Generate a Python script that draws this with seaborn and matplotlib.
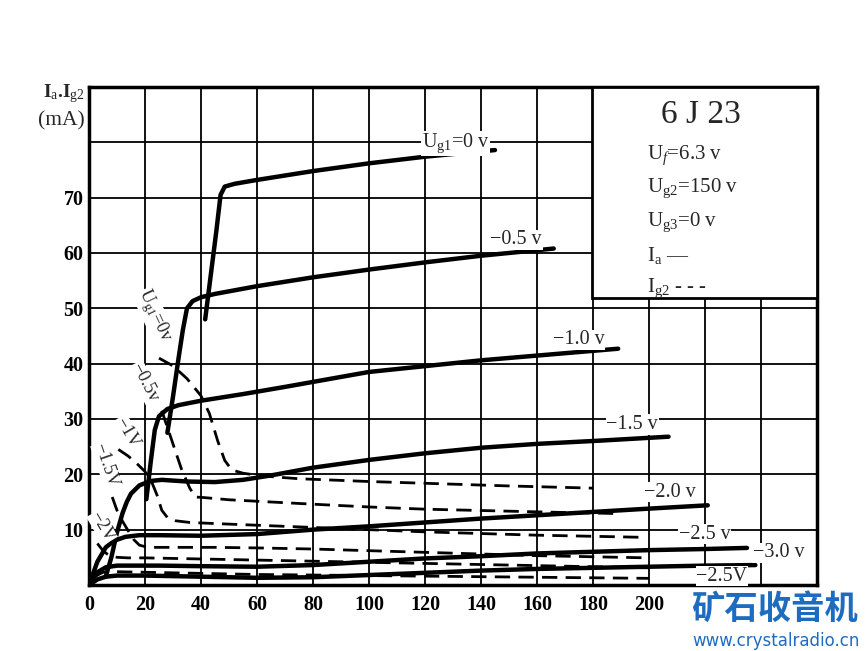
import matplotlib
matplotlib.use("Agg")
import matplotlib.pyplot as plt
import seaborn as sns
import pandas as pd
from matplotlib.patches import Rectangle

# anode voltage (V) / current (mA)
# Ia curves (solid)
ia_0_x = [41.5, 43.5, 45.5, 47, 48.5, 52, 60, 80, 100, 120, 145]
ia_0_y = [48, 56, 64, 70.5, 72, 72.5, 73.2, 74.8, 76.2, 77.4, 78.6]
ia_05_x = [28, 30, 32, 33.5, 35, 37, 40, 45, 60, 80, 100, 120, 140, 166]
ia_05_y = [27.5, 34, 41, 46, 50, 51.3, 52, 52.6, 54, 55.6, 57, 58.3, 59.5, 60.8]
ia_10_x = [20.5, 22, 23.5, 25, 28, 32, 40, 55, 70, 100, 140, 189]
ia_10_y = [15.5, 22, 28, 30.5, 31.8, 32.5, 33.3, 34.5, 35.8, 38.5, 40.6, 42.7]
ia_15_x = [6, 8, 10, 12, 13.5, 15, 18, 22, 26, 35, 45, 55, 65, 80, 100, 120, 140, 160, 183, 207]
ia_15_y = [1.5, 5, 9.5, 13, 15, 16.5, 18, 18.8, 19, 18.7, 18.6, 19, 19.8, 21.2, 22.6, 23.8, 24.8, 25.5, 26.1, 26.8]
ia_20_x = [0, 3, 6, 9, 13, 18, 25, 40, 60, 80, 100, 120, 140, 160, 180, 200, 221]
ia_20_y = [0, 4.2, 6.8, 8, 8.7, 9, 9, 8.9, 9.2, 10, 10.6, 11.3, 12, 12.6, 13.2, 13.8, 14.4]
ia_25_x = [0, 3, 6, 10, 15, 25, 40, 60, 80, 100, 120, 140, 160, 180, 200, 220, 235]
ia_25_y = [0, 2.3, 3.2, 3.5, 3.5, 3.5, 3.4, 3.3, 3.6, 4.2, 4.8, 5.2, 5.7, 6.0, 6.3, 6.5, 6.7]
ia_30_x = [0, 3, 6, 10, 20, 40, 60, 80, 100, 120, 140, 160, 180, 200, 220, 238]
ia_30_y = [0, 1.0, 1.5, 1.7, 1.7, 1.5, 1.3, 1.4, 1.8, 2.2, 2.6, 2.9, 3.1, 3.3, 3.5, 3.6]

# Ig2 curves (dashed)
ig_0_x = [25, 30, 35, 40, 43, 46, 48.5, 51, 55, 62, 75, 100, 125, 150, 180]
ig_0_y = [41, 39.6, 37.3, 34.2, 31, 26, 22.5, 20.8, 20.2, 19.7, 19.2, 18.7, 18.3, 17.9, 17.5]
ig_05_x = [26, 30, 33, 36, 38, 41, 50, 65, 80, 100, 120, 145, 170, 190]
ig_05_y = [31.5, 25.5, 21, 17.5, 15.9, 15.8, 15.4, 15, 14.6, 14.1, 13.7, 13.4, 13.1, 12.9]
ig_10_x = [10.5, 14, 17, 20, 22.5, 24.5, 26, 28, 31, 36, 45, 60, 80, 100, 120, 140, 160, 180, 199]
ig_10_y = [24.5, 23.3, 22, 20.5, 18.5, 16, 13.5, 12.2, 11.6, 11.3, 11.1, 10.8, 10.4, 10, 9.6, 9.3, 9.0, 8.8, 8.6]
ig_15_x = [8.3, 10, 12, 14, 16, 18, 21, 30, 45, 60, 80, 100, 120, 140, 160, 180, 200]
ig_15_y = [15.9, 13.5, 11.5, 9.8, 8.2, 7.2, 6.8, 6.8, 6.8, 6.7, 6.5, 6.2, 5.9, 5.6, 5.3, 5.1, 4.9]
ig_20_x = [3, 5, 7, 10, 14, 20, 40, 60, 80, 100, 120, 140, 160, 180, 200]
ig_20_y = [7.5, 6.2, 5.4, 5.0, 4.9, 4.9, 4.7, 4.5, 4.3, 4.1, 3.9, 3.7, 3.5, 3.3, 3.1]
ig_25_x = [2, 5, 10, 20, 40, 60, 80, 100, 120, 140, 160, 180, 200]
ig_25_y = [1.5, 2.3, 2.4, 2.3, 2.1, 1.9, 1.8, 1.7, 1.6, 1.5, 1.4, 1.3, 1.2]

ia_curves = {"0": (ia_0_x, ia_0_y), "-0.5": (ia_05_x, ia_05_y), "-1.0": (ia_10_x, ia_10_y),
             "-1.5": (ia_15_x, ia_15_y), "-2.0": (ia_20_x, ia_20_y), "-2.5": (ia_25_x, ia_25_y),
             "-3.0": (ia_30_x, ia_30_y)}
ig_curves = {"0": (ig_0_x, ig_0_y), "-0.5": (ig_05_x, ig_05_y), "-1.0": (ig_10_x, ig_10_y),
             "-1.5": (ig_15_x, ig_15_y), "-2.0": (ig_20_x, ig_20_y), "-2.5": (ig_25_x, ig_25_y)}

rows = []
for kind, curves in [("Ia", ia_curves), ("Ig2", ig_curves)]:
    for ug, (xs, ys) in curves.items():
        for x, y in zip(xs, ys):
            rows.append({"Ua": x, "I": y, "Ug1": ug, "kind": kind})
df = pd.DataFrame(rows)

# labels at the ends of the Ia curves
end_labels = [r"U$_\mathrm{g1}$=0 v", "−0.5 v", "−1.0 v", "−1.5 v", "−2.0 v", "−2.5 v", "−3.0 v", "−2.5V"]
end_x = [131, 152.6, 175, 194, 207.5, 220, 246.3, 226]
end_y = [79.8, 62.4, 44.3, 29.0, 16.8, 9.2, 5.8, 1.6]
# rotated labels at the start of the Ig2 curves
start_labels = [r"U$_\mathrm{g1}$=0v", "−0.5v", "−1V", "−1.5V", "−2V"]
start_x = [23.3, 19.7, 13.6, 6.1, 4.7]
start_y = [48.6, 36.6, 27.6, 21.6, 10.5]
start_rot = [-65, -63, -60, -71, -60]

sns.set_theme(style="white")
plt.rcParams["font.family"] = ["Liberation Serif", "DejaVu Serif"]
plt.rcParams["mathtext.fontset"] = "custom"
plt.rcParams["mathtext.rm"] = "Liberation Serif"
plt.rcParams["mathtext.it"] = "Liberation Serif:italic"
plt.rcParams["mathtext.bf"] = "Liberation Serif:bold"

fig = plt.figure(figsize=(8.68, 6.51), dpi=100)
ax = fig.add_axes([0.1025, 0.1014, 0.8387, 0.765])

for (kind, ug), sub in df.groupby(["kind", "Ug1"], sort=False):
    if kind == "Ia":
        sns.lineplot(data=sub, x="Ua", y="I", sort=False, estimator=None,
                     color="black", lw=3.2, ax=ax, zorder=5)
    else:
        sns.lineplot(data=sub, x="Ua", y="I", sort=False, estimator=None,
                     color="black", lw=2.0, ax=ax, zorder=5)
        ax.lines[-1].set_dashes([5.5, 3])

ax.set_xlim(0, 260)
ax.set_ylim(0, 90)
ax.set_xticks(range(0, 261, 20))
ax.set_yticks(range(0, 91, 10))
ax.set_xticklabels([str(v) if v <= 200 else "" for v in range(0, 261, 20)])
ax.set_yticklabels([str(v) if 10 <= v <= 70 else "" for v in range(0, 91, 10)])
ax.tick_params(length=0, labelsize=14.5, colors="black")
ax.tick_params(axis="x", pad=7)
ax.tick_params(axis="y", pad=4)
for lab in ax.get_xticklabels() + ax.get_yticklabels():
    lab.set_fontweight("bold")
ax.get_xticklabels()[0].set_x(-3)
ax.grid(True, color="black", lw=1.3)
ax.set_axisbelow(True)
for s in ax.spines.values():
    s.set_color("black")
    s.set_linewidth(2.5)
ax.set_xlabel("")
ax.set_ylabel("")

for t, x, y in zip(end_labels, end_x, end_y):
    ax.text(x, y, t, fontsize=14.5, ha="center", va="center", zorder=6,
            bbox=dict(facecolor="white", edgecolor="none", pad=0.5))
for t, x, y, r in zip(start_labels, start_x, start_y, start_rot):
    ax.text(x, y, t, fontsize=13, ha="center", va="center", rotation=r,
            rotation_mode="anchor", zorder=6,
            bbox=dict(facecolor="white", edgecolor="none", pad=0.3))

# tube data box in the upper right
ax.add_patch(Rectangle((0.691, 0.576), 0.309, 0.424, transform=ax.transAxes,
                       facecolor="white", edgecolor="black", lw=2.0, zorder=4))
ax.text(0.84, 0.945, "6 J 23", transform=ax.transAxes, fontsize=24,
        ha="center", va="center", zorder=7)
info = [r"U$_f$=6.3 v", r"U$_\mathrm{g2}$=150 v", r"U$_\mathrm{g3}$=0 v",
        r"I$_\mathrm{a}$ —", r"I$_\mathrm{g2}$ - - -"]
for i, t in enumerate(info):
    ax.text(0.766, 0.863 - i * 0.067, t, transform=ax.transAxes, fontsize=15,
            ha="left", va="center", zorder=7)

fig.text(0.098, 0.856, r"I$_\mathrm{a}$.I$_\mathrm{g2}$", fontsize=14,
         fontweight="bold", ha="right", va="center")
fig.text(0.098, 0.815, "(mA)", fontsize=15.5, ha="right", va="center")

fig.text(0.988, 0.064, "矿石收音机", fontsize=24, color="#1e6cc0",
         fontweight="bold", family=["Noto Sans CJK SC", "DejaVu Sans"],
         ha="right", va="center")
fig.text(0.99, 0.016, "www.crystalradio.cn", fontsize=12, color="#1e6cc0",
         family=["DejaVu Sans"], ha="right", va="center")

fig.savefig("out.png", dpi=100)
